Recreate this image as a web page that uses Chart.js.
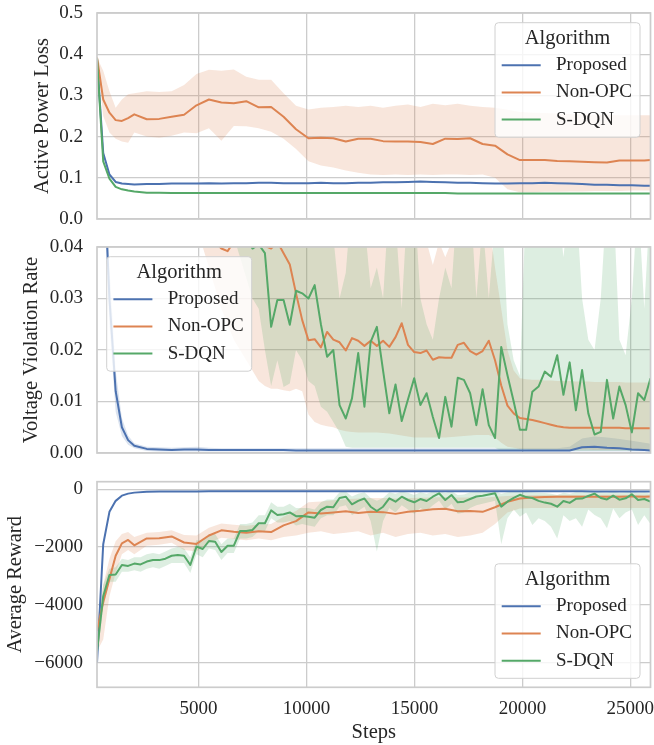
<!DOCTYPE html>
<html>
<head>
<meta charset="utf-8">
<script src="https://cdn.jsdelivr.net/npm/chart.js@4.4.1/dist/chart.umd.min.js"></script>
<style>
  html, body { margin: 0; padding: 0; background: #fff; }
  #wrap { position: relative; width: 654px; height: 745px; }
  canvas { position: absolute; left: 0; }
</style>
</head>
<body>
<div id="wrap">
  <canvas id="c1" width="654" height="232" style="top:0px"></canvas>
  <canvas id="c2" width="654" height="232" style="top:234px"></canvas>
  <canvas id="c3" width="654" height="277" style="top:468px"></canvas>
</div>
<script>
// logged training steps (fine = every evaluation, coarse = every other one)
const stepsFine = [300, 588, 876, 1164, 1452, 1740, 2028, 2316, 2604, 2892,
  3180, 3468, 3756, 4044, 4332, 4620, 4908, 5196, 5484, 5772,
  6060, 6348, 6636, 6924, 7212, 7500, 7788, 8076, 8364, 8652,
  8940, 9228, 9516, 9804, 10092, 10380, 10668, 10956, 11244, 11532,
  11820, 12108, 12396, 12684, 12972, 13260, 13548, 13836, 14124, 14412,
  14700, 14988, 15276, 15564, 15852, 16140, 16428, 16716, 17004, 17292,
  17580, 17868, 18156, 18444, 18732, 19020, 19308, 19596, 19884, 20172,
  20460, 20748, 21036, 21324, 21612, 21900, 22188, 22476, 22764, 23052,
  23340, 23628, 23916, 24204, 24492, 24780, 25068, 25356, 25644, 25932];
const stepsCoarse = [300, 588, 876, 1164, 1452, 1740, 2028, 2604, 3180, 3756,
  4332, 4908, 5484, 6060, 6636, 7212, 7788, 8364, 8940, 9516,
  10092, 10668, 11244, 11820, 12396, 12972, 13548, 14124, 14700, 15276,
  15852, 16428, 17004, 17580, 18156, 18732, 19308, 19884, 20460, 21036,
  21612, 22188, 22764, 23340, 23916, 24492, 25068, 25644, 25932];

const algorithms = ['Proposed', 'Non-OPC', 'S-DQN'];
const xTicks = [5000, 10000, 15000, 20000, 25000];

// ---- Active power loss (coarse steps)
const topProposed = [0.39, 0.16, 0.108, 0.09, 0.086, 0.085, 0.084, 0.085, 0.085, 0.086,
  0.086, 0.086, 0.087, 0.086, 0.087, 0.087, 0.088, 0.088, 0.087, 0.087,
  0.087, 0.088, 0.087, 0.087, 0.088, 0.088, 0.089, 0.089, 0.09, 0.091,
  0.09, 0.089, 0.088, 0.088, 0.087, 0.086, 0.086, 0.087, 0.087, 0.088,
  0.087, 0.086, 0.085, 0.083, 0.083, 0.082, 0.082, 0.081, 0.081];
const topNonOPC = [0.392, 0.29, 0.258, 0.24, 0.238, 0.245, 0.254, 0.242, 0.243, 0.248,
  0.253, 0.276, 0.29, 0.283, 0.281, 0.286, 0.271, 0.272, 0.248, 0.218,
  0.196, 0.197, 0.196, 0.188, 0.195, 0.195, 0.189, 0.188, 0.188, 0.187,
  0.182, 0.195, 0.194, 0.196, 0.182, 0.178, 0.157, 0.143, 0.143, 0.143,
  0.141, 0.14, 0.139, 0.138, 0.137, 0.142, 0.142, 0.142, 0.143];
const topNonOPCHi = [0.392, 0.36, 0.31, 0.27, 0.29, 0.303, 0.305, 0.31, 0.308, 0.31,
  0.325, 0.352, 0.362, 0.36, 0.363, 0.345, 0.338, 0.338, 0.305, 0.275,
  0.266, 0.27, 0.272, 0.275, 0.272, 0.275, 0.27, 0.275, 0.278, 0.272,
  0.28, 0.276, 0.28, 0.275, 0.272, 0.27, 0.265, 0.26, 0.258, 0.257,
  0.256, 0.255, 0.254, 0.253, 0.253, 0.252, 0.252, 0.252, 0.252];
const topNonOPCLo = [0.392, 0.25, 0.21, 0.195, 0.188, 0.185, 0.21, 0.2, 0.197, 0.202,
  0.21, 0.208, 0.22, 0.19, 0.226, 0.225, 0.22, 0.212, 0.195, 0.17,
  0.14, 0.13, 0.125, 0.118, 0.112, 0.108, 0.107, 0.108, 0.107, 0.108,
  0.107, 0.108, 0.108, 0.107, 0.108, 0.1, 0.072, 0.065, 0.065, 0.066,
  0.066, 0.067, 0.067, 0.068, 0.068, 0.068, 0.069, 0.069, 0.069];
const topSDQN = [0.39, 0.14, 0.098, 0.078, 0.072, 0.069, 0.067, 0.064, 0.064, 0.063,
  0.063, 0.063, 0.063, 0.063, 0.063, 0.063, 0.063, 0.063, 0.063, 0.063,
  0.063, 0.063, 0.063, 0.063, 0.063, 0.063, 0.063, 0.063, 0.063, 0.063,
  0.063, 0.063, 0.062, 0.062, 0.062, 0.062, 0.062, 0.062, 0.062, 0.062,
  0.062, 0.062, 0.062, 0.062, 0.062, 0.062, 0.062, 0.062, 0.062];

// ---- Voltage violation rate
const midProposed = [0.13, 0.058, 0.03, 0.012, 0.005, 0.0025, 0.0014, 0.0008, 0.0007, 0.0006,
  0.0007, 0.0007, 0.0006, 0.0006, 0.0006, 0.0006, 0.0006, 0.0006, 0.0006, 0.0005,
  0.0005, 0.0005, 0.0005, 0.0005, 0.0005, 0.0005, 0.0005, 0.0005, 0.0005, 0.0005,
  0.0005, 0.0005, 0.0005, 0.0005, 0.0005, 0.0005, 0.0005, 0.0005, 0.0005, 0.0005,
  0.0005, 0.0005, 0.0011, 0.0012, 0.001, 0.0009, 0.0007, 0.0006, 0.0005];
const midProposedHi = [0.13, 0.064, 0.036, 0.016, 0.0068, 0.0034, 0.0019, 0.0012, 0.0011, 0.001,
  0.0011, 0.0012, 0.001, 0.0009, 0.0009, 0.0009, 0.0009, 0.0009, 0.0009, 0.0009,
  0.0009, 0.0009, 0.0009, 0.0009, 0.0009, 0.0009, 0.0009, 0.0009, 0.0009, 0.0009,
  0.0009, 0.0009, 0.0009, 0.0009, 0.0009, 0.0009, 0.0009, 0.0009, 0.0009, 0.0009,
  0.0009, 0.0012, 0.0028, 0.0032, 0.003, 0.0027, 0.0024, 0.002, 0.0018];
const midProposedLo = [0.13, 0.052, 0.025, 0.008, 0.0033, 0.0016, 0.0009, 0.0004, 0.0003, 0.0003,
  0.0003, 0.0003, 0.0003, 0.0003, 0.0003, 0.0003, 0.0003, 0.0003, 0.0003, 0.0003,
  0.0003, 0.0003, 0.0003, 0.0003, 0.0003, 0.0003, 0.0003, 0.0003, 0.0003, 0.0003,
  0.0003, 0.0003, 0.0003, 0.0003, 0.0003, 0.0003, 0.0003, 0.0003, 0.0003, 0.0003,
  0.0003, 0.0003, 0.0003, 0.0003, 0.0003, 0.0003, 0.0003, 0.0003, 0.0003];
const midNonOPC = [0.25, 0.2, 0.16, 0.13, 0.11, 0.095, 0.085, 0.077, 0.07, 0.065,
  0.06, 0.056, 0.053, 0.05, 0.048, 0.046, 0.045, 0.044, 0.042, 0.041,
  0.0397, 0.0392, 0.041, 0.042, 0.0415, 0.041, 0.0405, 0.0402, 0.0397, 0.041,
  0.0388, 0.0366, 0.031, 0.0258, 0.0219, 0.0221, 0.0205, 0.0235, 0.022, 0.0215,
  0.0199, 0.0223, 0.0218, 0.0208, 0.0218, 0.0208, 0.0218, 0.0206, 0.0225, 0.0252,
  0.021, 0.0196, 0.0194, 0.0199, 0.0181, 0.0186, 0.0185, 0.0185, 0.021, 0.0214,
  0.0198, 0.0191, 0.0198, 0.0218, 0.018, 0.0131, 0.0092, 0.0077, 0.0068, 0.0066,
  0.0064, 0.0061, 0.0058, 0.0055, 0.0052, 0.005, 0.0049, 0.0049, 0.0049, 0.0049,
  0.0049, 0.0049, 0.0049, 0.0049, 0.0049, 0.0048, 0.0048, 0.0048, 0.0048, 0.0048];
const midNonOPCHi = [0.3, 0.25, 0.2, 0.17, 0.15, 0.13, 0.12, 0.11, 0.1, 0.095,
  0.09, 0.085, 0.08, 0.078, 0.075, 0.072, 0.07, 0.068, 0.066, 0.065,
  0.064, 0.064, 0.063, 0.063, 0.063, 0.062, 0.062, 0.062, 0.062, 0.062,
  0.06, 0.058, 0.055, 0.052, 0.05, 0.049, 0.048, 0.048, 0.048, 0.047,
  0.047, 0.047, 0.047, 0.046, 0.046, 0.046, 0.046, 0.046, 0.046, 0.046,
  0.045, 0.044, 0.042, 0.041, 0.0365, 0.041, 0.038, 0.041, 0.042, 0.045,
  0.045, 0.045, 0.045, 0.045, 0.036, 0.028, 0.02, 0.016, 0.0145, 0.0143,
  0.0142, 0.0142, 0.0141, 0.0141, 0.014, 0.014, 0.014, 0.0139, 0.0139, 0.0139,
  0.0138, 0.0138, 0.0138, 0.0138, 0.0138, 0.0137, 0.0137, 0.0137, 0.0137, 0.0137];
const midNonOPCLo = [0.2, 0.15, 0.12, 0.1, 0.085, 0.075, 0.068, 0.062, 0.058, 0.055,
  0.052, 0.05, 0.048, 0.046, 0.045, 0.044, 0.042, 0.04, 0.036, 0.032,
  0.028, 0.025, 0.022, 0.02, 0.018, 0.016, 0.014, 0.013, 0.0125, 0.0125,
  0.0122, 0.012, 0.0125, 0.012, 0.0075, 0.006, 0.0055, 0.0052, 0.005, 0.0045,
  0.0042, 0.0041, 0.004, 0.004, 0.004, 0.004, 0.0039, 0.0038, 0.0036, 0.0034,
  0.0032, 0.003, 0.003, 0.003, 0.003, 0.003, 0.003, 0.0031, 0.0032, 0.0033,
  0.0034, 0.0035, 0.0035, 0.0035, 0.003, 0.002, 0.0012, 0.001, 0.0008, 0.0008,
  0.0007, 0.0007, 0.0007, 0.0007, 0.0007, 0.0007, 0.0007, 0.0007, 0.0007, 0.0007,
  0.0006, 0.0006, 0.0006, 0.0006, 0.0006, 0.0006, 0.0006, 0.0006, 0.0006, 0.0006];
const midSDQN = [0.3, 0.25, 0.2, 0.17, 0.15, 0.13, 0.12, 0.11, 0.1, 0.09,
  0.085, 0.08, 0.075, 0.07, 0.066, 0.062, 0.059, 0.056, 0.053, 0.05,
  0.048, 0.046, 0.045, 0.043, 0.042, 0.0397, 0.0405, 0.0388, 0.0245, 0.0297,
  0.0297, 0.0249, 0.0315, 0.031, 0.03, 0.0326, 0.025, 0.0187, 0.02, 0.0093,
  0.0067, 0.0106, 0.0194, 0.009, 0.0216, 0.0245, 0.016, 0.0077, 0.0133, 0.0062,
  0.0104, 0.0145, 0.0093, 0.0116, 0.007, 0.0029, 0.0109, 0.0051, 0.0146, 0.0142,
  0.0116, 0.0054, 0.0124, 0.0054, 0.0029, 0.0206, 0.0151, 0.01, 0.0045, 0.0045,
  0.0119, 0.0129, 0.0158, 0.0148, 0.019, 0.0113, 0.0176, 0.0083, 0.0161, 0.0077,
  0.0036, 0.0041, 0.0142, 0.0067, 0.0129, 0.0093, 0.004, 0.0116, 0.0103, 0.0145];
const midSDQNHi = [0.4, 0.35, 0.3, 0.25, 0.22, 0.2, 0.18, 0.16, 0.15, 0.14,
  0.13, 0.12, 0.11, 0.1, 0.095, 0.09, 0.085, 0.08, 0.075, 0.072,
  0.07, 0.068, 0.065, 0.062, 0.06, 0.058, 0.056, 0.055, 0.045, 0.05,
  0.05, 0.042, 0.05, 0.05, 0.05, 0.05, 0.045, 0.04, 0.042, 0.03,
  0.035, 0.05, 0.05, 0.045, 0.032, 0.036, 0.03, 0.05, 0.045, 0.028,
  0.05, 0.05, 0.03, 0.025, 0.022, 0.03, 0.036, 0.032, 0.05, 0.05,
  0.05, 0.03, 0.045, 0.03, 0.045, 0.05, 0.025, 0.018, 0.015, 0.05,
  0.05, 0.05, 0.05, 0.05, 0.05, 0.038, 0.05, 0.05, 0.03, 0.022,
  0.02, 0.03, 0.05, 0.05, 0.022, 0.019, 0.03, 0.05, 0.028, 0.05];
const midSDQNLo = [0.25, 0.2, 0.15, 0.12, 0.1, 0.09, 0.08, 0.075, 0.07, 0.065,
  0.062, 0.06, 0.058, 0.056, 0.054, 0.052, 0.05, 0.048, 0.046, 0.045,
  0.044, 0.043, 0.042, 0.038, 0.034, 0.03, 0.028, 0.02, 0.013, 0.018,
  0.0128, 0.0135, 0.02, 0.018, 0.014, 0.013, 0.009, 0.008, 0.006, 0.004,
  0.0012, 0.001, 0.001, 0.001, 0.001, 0.001, 0.001, 0.001, 0.001, 0.001,
  0.001, 0.001, 0.001, 0.001, 0.001, 0.001, 0.001, 0.001, 0.001, 0.001,
  0.001, 0.001, 0.001, 0.001, 0.001, 0.0004, 0.0004, 0.0004, 0.0004, 0.0004,
  0.0004, 0.0004, 0.0004, 0.0004, 0.0004, 0.0004, 0.0004, 0.0004, 0.0004, 0.0004,
  0.0004, 0.0004, 0.0004, 0.0004, 0.0004, 0.0004, 0.0004, 0.0004, 0.0004, 0.0004];

// ---- Average reward
const botProposed = [-6000, -1900, -780, -400, -220, -150, -115, -85, -78, -75,
  -72, -72, -70, -70, -70, -70, -68, -68, -68, -68,
  -68, -68, -68, -68, -68, -68, -68, -68, -68, -68,
  -68, -68, -68, -68, -68, -68, -68, -68, -68, -68,
  -68, -68, -70, -72, -72, -72, -72, -72, -72];
const botNonOPC = [-4900, -3900, -3100, -2300, -1870, -1754, -1940, -1700, -1695, -1630,
  -1840, -1890, -1600, -1420, -1470, -1500, -1450, -1480, -1250, -1100,
  -800, -840, -800, -760, -820, -775, -790, -850, -780, -740,
  -690, -670, -760, -750, -780, -620, -430, -320, -285, -265,
  -258, -256, -255, -254, -255, -254, -253, -254, -253];
const botNonOPCHi = [-4600, -3300, -2400, -1800, -1550, -1480, -1650, -1500, -1480, -1420,
  -1580, -1600, -1330, -1180, -1230, -1260, -1220, -1200, -950, -750,
  -450, -420, -380, -340, -320, -300, -300, -320, -300, -290,
  -280, -270, -280, -280, -290, -260, -230, -210, -200, -200,
  -200, -195, -195, -190, -190, -190, -190, -190, -190];
const botNonOPCLo = [-5600, -5200, -3700, -2900, -2250, -2100, -2250, -1950, -1920, -1850,
  -2100, -2150, -1850, -1680, -1720, -1760, -1700, -1760, -1650, -1600,
  -1500, -1450, -1550, -1500, -1450, -1600, -1500, -1650, -1550, -1500,
  -1600, -1550, -1650, -1600, -1500, -1200, -800, -660, -650, -650,
  -650, -650, -650, -650, -650, -650, -650, -650, -650];
const botSDQN = [-5600, -3700, -2965, -2950, -2620, -2650, -2570, -2600, -2500, -2446,
  -2450, -2400, -2300, -2273, -2298, -2620, -1980, -2066, -1789, -1813,
  -2170, -1951, -1951, -1443, -1443, -1408, -1176, -1176, -730, -889,
  -865, -800, -930, -920, -950, -982, -716, -602, -623, -300,
  -256, -520, -400, -320, -602, -751, -602, -311, -429, -256,
  -370, -450, -336, -405, -256, -138, -370, -197, -450, -429,
  -336, -250, -221, -180, -138, -602, -429, -300, -190, -270,
  -300, -400, -460, -500, -602, -405, -470, -330, -320, -230,
  -150, -300, -350, -221, -360, -311, -173, -370, -336, -429];
const botSDQNHi = [-5300, -3300, -2750, -2700, -2400, -2450, -2350, -2350, -2250, -2200,
  -2250, -2150, -2050, -2000, -2050, -2350, -1750, -1800, -1550, -1550,
  -1900, -1700, -1700, -1200, -1200, -1150, -900, -900, -450, -600,
  -600, -500, -650, -650, -650, -700, -450, -350, -350, -100,
  -80, -250, -150, -100, -300, -400, -300, -100, -150, -80,
  -120, -200, -100, -150, -80, -60, -120, -60, -200, -180,
  -100, -80, -70, -60, -60, -150, -100, -80, -60, -90,
  -100, -120, -130, -150, -200, -120, -150, -100, -100, -80,
  -70, -100, -120, -80, -120, -100, -70, -120, -100, -150];
const botSDQNLo = [-5900, -4100, -3200, -3200, -2850, -2850, -2800, -2850, -2750, -2700,
  -2750, -2650, -2550, -2550, -2550, -2900, -2250, -2350, -2050, -2100,
  -2450, -2200, -2200, -1700, -1700, -1650, -1450, -1450, -1000, -1150,
  -1150, -1100, -1250, -1200, -1250, -1300, -1000, -900, -900, -600,
  -550, -900, -750, -600, -1100, -2150, -1100, -650, -800, -550,
  -700, -850, -650, -750, -550, -400, -700, -500, -850, -800,
  -650, -550, -500, -450, -400, -1900, -1000, -700, -950, -800,
  -1235, -1000, -1100, -1300, -1700, -900, -1100, -1000, -1300, -700,
  -890, -1000, -1350, -660, -1000, -800, -700, -1235, -900, -1200];

const BLUE = '#4c72b0', ORANGE = '#dd8452', GREEN = '#55a868';
const BAND = { blue: 'rgba(76,114,176,0.2)', orange: 'rgba(221,132,82,0.2)', green: 'rgba(85,168,104,0.2)' };
const FONT = '"Liberation Serif", "Times New Roman", serif';
const TEXT = '#262626';
const GRID = '#cccccc';

function pts(xs, ys) { return xs.map((x, i) => ({ x: x, y: ys[i] })); }

// bands sit under every line (matplotlib zorder), higher order = drawn earlier
function line(label, xs, ys, color, order) {
  return { label: label, data: pts(xs, ys), borderColor: color, borderWidth: 2,
    pointRadius: 0, fill: false, tension: 0, borderJoinStyle: 'round', order: order };
}
function band(xs, hi, lo, color, order) {
  return [
    { label: '', band: true, data: pts(xs, hi), borderColor: 'rgba(0,0,0,0)', borderWidth: 0,
      pointRadius: 0, fill: '+1', backgroundColor: color, tension: 0, order: order },
    { label: '', band: true, data: pts(xs, lo), borderColor: 'rgba(0,0,0,0)', borderWidth: 0,
      pointRadius: 0, fill: false, tension: 0, order: order }
  ];
}

const frame = {
  id: 'frame',
  afterDatasetsDraw(chart) {
    const a = chart.chartArea, ctx = chart.ctx;
    ctx.save();
    ctx.strokeStyle = GRID;
    ctx.lineWidth = 1.7;
    ctx.strokeRect(a.left, a.top, a.right - a.left, a.bottom - a.top);
    ctx.restore();
  }
};

const legendBox = {
  id: 'legendBox',
  afterDraw(chart, args, opts) {
    const a = chart.chartArea, ctx = chart.ctx;
    const w = 145, h = 114.5, r = 3.5;
    const x = opts.corner.indexOf('l') >= 0 ? a.left + 9.7 : a.right - 10.5 - w;
    const y = opts.corner.indexOf('t') >= 0 ? a.top + 9.7 : a.bottom - 9 - h;
    ctx.save();
    ctx.beginPath();
    ctx.moveTo(x + r, y);
    ctx.arcTo(x + w, y, x + w, y + h, r);
    ctx.arcTo(x + w, y + h, x, y + h, r);
    ctx.arcTo(x, y + h, x, y, r);
    ctx.arcTo(x, y, x + w, y, r);
    ctx.closePath();
    ctx.fillStyle = 'rgba(255,255,255,0.8)';
    ctx.fill();
    ctx.strokeStyle = '#d0d0d0';
    ctx.lineWidth = 1;
    ctx.stroke();

    ctx.fillStyle = TEXT;
    ctx.textBaseline = 'middle';
    ctx.textAlign = 'center';
    ctx.font = '20.5px ' + FONT;
    ctx.fillText('Algorithm', x + w / 2, y + 15.5);
    ctx.textAlign = 'left';
    ctx.font = '19px ' + FONT;
    chart.data.datasets.filter(d => !d.band).forEach((d, i) => {
      const ry = y + 42.5 + i * 27.2;
      ctx.strokeStyle = d.borderColor;
      ctx.lineWidth = 2;
      ctx.beginPath();
      ctx.moveTo(x + 6.7, ry);
      ctx.lineTo(x + 45.7, ry);
      ctx.stroke();
      ctx.fillText(d.label, x + 61, ry);
    });
    ctx.restore();
  }
};

function makeChart(id, cfg) {
  const showX = cfg.showX;
  return new Chart(document.getElementById(id), {
    type: 'line',
    data: { datasets: cfg.datasets },
    options: {
      responsive: false,
      animation: false,
      devicePixelRatio: 1,
      layout: { padding: { top: cfg.padTop, bottom: cfg.padBottom, left: 0, right: 3.5 } },
      plugins: { legend: { display: false }, tooltip: { enabled: false }, legendBox: { corner: cfg.corner } },
      scales: {
        x: {
          type: 'linear', min: 300, max: 25932,
          afterBuildTicks: s => { s.ticks = xTicks.map(v => ({ value: v })); },
          afterFit: s => { s.paddingLeft = 0; s.paddingRight = 0; s.height = cfg.xHeight; },
          grid: { color: GRID, lineWidth: 1.3, drawTicks: false },
          border: { display: false },
          ticks: { display: showX, padding: 10, color: TEXT, maxRotation: 0,
            font: { family: FONT, size: 19 }, callback: v => String(v) },
          title: { display: showX, text: 'Steps', color: TEXT,
            font: { family: FONT, size: 20.5 }, padding: { top: 0, bottom: 0 } }
        },
        y: {
          min: cfg.yMin, max: cfg.yMax,
          afterBuildTicks: s => { s.ticks = cfg.yTicks.map(v => ({ value: v })); },
          afterFit: s => { s.width = 97; s.paddingTop = 0; s.paddingBottom = 0; },
          grid: { color: GRID, lineWidth: 1.3, drawTicks: false },
          border: { display: false },
          ticks: { padding: 14, color: TEXT, font: { family: FONT, size: 19 }, callback: cfg.fmt },
          title: { display: true, text: cfg.yTitle, color: TEXT,
            font: { family: FONT, size: 20.5 }, padding: { top: cfg.titlePad, bottom: 0 } }
        }
      }
    },
    plugins: [frame, legendBox]
  });
}

makeChart('c1', {
  datasets: [
    line(algorithms[0], stepsCoarse, topProposed, BLUE, 3),
    line(algorithms[1], stepsCoarse, topNonOPC, ORANGE, 2),
    line(algorithms[2], stepsCoarse, topSDQN, GREEN, 1),
    ...band(stepsCoarse, topNonOPCHi, topNonOPCLo, BAND.orange, 5)
  ],
  padTop: 13, padBottom: 13, xHeight: 0, showX: false, corner: 'tr',
  yMin: 0, yMax: 0.5, yTicks: [0, 0.1, 0.2, 0.3, 0.4, 0.5],
  fmt: v => v.toFixed(1), yTitle: 'Active Power Loss', titlePad: 30
});

makeChart('c2', {
  datasets: [
    line(algorithms[0], stepsCoarse, midProposed, BLUE, 3),
    line(algorithms[1], stepsFine, midNonOPC, ORANGE, 2),
    line(algorithms[2], stepsFine, midSDQN, GREEN, 1),
    ...band(stepsCoarse, midProposedHi, midProposedLo, BAND.blue, 6),
    ...band(stepsFine, midNonOPCHi, midNonOPCLo, BAND.orange, 5),
    ...band(stepsFine, midSDQNHi, midSDQNLo, BAND.green, 4)
  ],
  padTop: 13, padBottom: 13, xHeight: 0, showX: false, corner: 'tl',
  yMin: 0, yMax: 0.04, yTicks: [0, 0.01, 0.02, 0.03, 0.04],
  fmt: v => v.toFixed(2), yTitle: 'Voltage Violation Rate', titlePad: 19.5
});

makeChart('c3', {
  datasets: [
    line(algorithms[0], stepsCoarse, botProposed, BLUE, 3),
    line(algorithms[1], stepsCoarse, botNonOPC, ORANGE, 2),
    line(algorithms[2], stepsFine, botSDQN, GREEN, 1),
    ...band(stepsCoarse, botNonOPCHi, botNonOPCLo, BAND.orange, 5),
    ...band(stepsFine, botSDQNHi, botSDQNLo, BAND.green, 4)
  ],
  padTop: 13.7, padBottom: 0, xHeight: 57.7, showX: true, corner: 'br',
  yMin: -6851, yMax: 263, yTicks: [-6000, -4000, -2000, 0],
  fmt: v => v === 0 ? '0' : '\u2212' + Math.abs(v), yTitle: 'Average Reward', titlePad: 3
});
</script>
</body>
</html>
